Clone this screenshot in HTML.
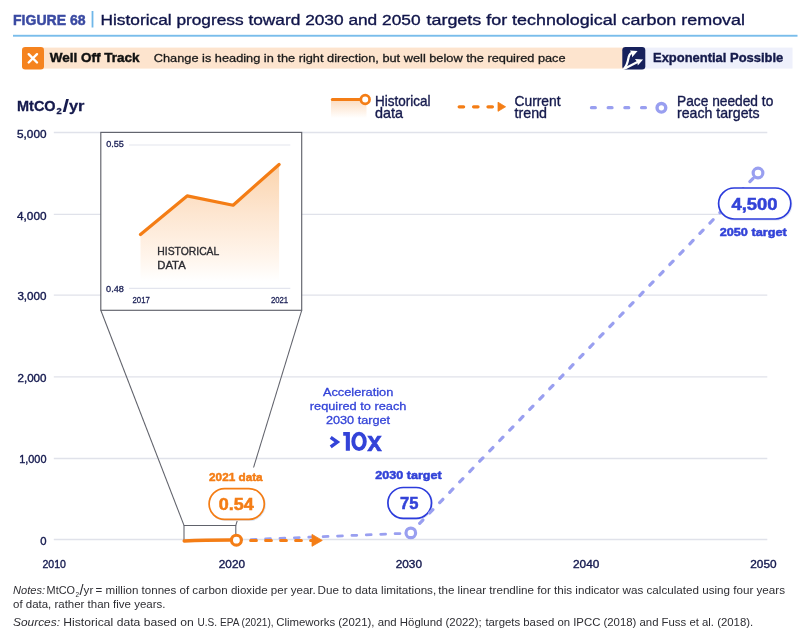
<!DOCTYPE html>
<html>
<head>
<meta charset="utf-8">
<title>Figure 68</title>
<style>
  html, body { margin: 0; padding: 0; background: #ffffff; }
  body { width: 800px; height: 639px; overflow: hidden; font-family: "Liberation Sans", sans-serif; }
  svg { display: block; will-change: transform; transform: translateZ(0); }
  text { font-family: "Liberation Sans", sans-serif; }
  .navy { fill: #151a4d; }
  .ax { fill: #161b50; font-size: 11px; stroke: #161b50; stroke-width: 0.38; }
  .leg { fill: #151a4d; font-size: 13.9px; stroke: #151a4d; stroke-width: 0.35; }
  .blue { fill: #3343d8; }
  .bs { stroke: #3343d8; stroke-width: 0.5; }
  .os { stroke: #f47d15; stroke-width: 0.5; }
  .org { fill: #f47d15; }
  .note { fill: #2e2e33; font-size: 11px; }
</style>
</head>
<body>
<svg width="800" height="639" viewBox="0 0 800 639">
  <defs>
    <linearGradient id="gArea" x1="0" y1="0" x2="0" y2="1">
      <stop offset="0" stop-color="#fbd4ad"/>
      <stop offset="0.4" stop-color="#fde5cf"/>
      <stop offset="0.8" stop-color="#fff5ec"/>
      <stop offset="1" stop-color="#ffffff"/>
    </linearGradient>
    <linearGradient id="gLeg" x1="0" y1="0" x2="0" y2="1">
      <stop offset="0" stop-color="#fcdcc0"/>
      <stop offset="1" stop-color="#ffffff"/>
    </linearGradient>
  </defs>

  <rect x="0" y="0" width="800" height="639" fill="#ffffff"/>

  <!-- Title -->
  <text x="13" y="24.6" font-size="15.1" font-weight="bold" fill="#3a4aa2" stroke="#3a4aa2" stroke-width="0.5" textLength="72.5" lengthAdjust="spacingAndGlyphs">FIGURE 68</text>
  <rect x="91.6" y="11" width="1.8" height="16.5" fill="#6fb7e9"/>
  <text x="100.5" y="24.6" font-size="15.2" fill="#10154a" stroke="#10154a" stroke-width="0.35" textLength="320" lengthAdjust="spacingAndGlyphs">Historical progress toward 2030 and 2050</text>
  <text x="426.5" y="24.6" font-size="15.2" fill="#10154a" stroke="#10154a" stroke-width="0.35" textLength="318.5" lengthAdjust="spacingAndGlyphs">targets for technological carbon removal</text>
  <rect x="13" y="34.8" width="784.5" height="1.9" fill="#79bdeb"/>

  <!-- Banner -->
  <rect x="30" y="47.6" width="594" height="21" fill="#fde4ce"/>
  <rect x="640" y="47.6" width="152.5" height="21" fill="#eef0fb"/>
  <rect x="22" y="47" width="22" height="22.4" rx="3.2" fill="#f5831f"/>
  <path d="M28.7 54.2 L37 62.5 M37 54.2 L28.7 62.5" stroke="#ffffff" stroke-width="2.4" stroke-linecap="round" fill="none"/>
  <text x="49.8" y="62.2" font-size="13.7" font-weight="bold" fill="#111111" stroke="#111111" stroke-width="0.45" textLength="89.8" lengthAdjust="spacingAndGlyphs">Well Off Track</text>
  <text x="153.8" y="62" font-size="11.7" fill="#1a1a1a" stroke="#1a1a1a" stroke-width="0.3" textLength="411.8" lengthAdjust="spacingAndGlyphs">Change is heading in the right direction, but well below the required pace</text>

  <rect x="622.3" y="47" width="23" height="22.5" rx="3.2" fill="#17215c"/>
  <clipPath id="icClip"><rect x="622.3" y="47" width="23" height="22.5" rx="3.2"/></clipPath>
  <g clip-path="url(#icClip)">
    <path d="M624 68.8 C626.6 66 627.7 62.2 628.3 58.8 C628.8 55.6 629.6 53.6 632 52.9" fill="none" stroke="#ffffff" stroke-width="2.2" stroke-linecap="round"/>
    <path d="M624.4 68.8 L637 62.2" fill="none" stroke="#ffffff" stroke-width="2.2" stroke-linecap="round"/>
    <path d="M629.9 50.6 L637.6 51 L632.1 57.2 L631.9 53.6 Z" fill="#ffffff"/>
    <path d="M634.9 59 L643.1 59.5 L637.8 65.6 L637.3 62 Z" fill="#ffffff"/>
  </g>
  <text x="653" y="62.4" font-size="13.6" font-weight="bold" fill="#141a4b" stroke="#141a4b" stroke-width="0.4" textLength="130.3" lengthAdjust="spacingAndGlyphs">Exponential Possible</text>

  <!-- Axis unit label -->
  <g font-weight="bold" class="navy" stroke="#151a4d" stroke-width="0.3">
    <text x="17" y="110.5" font-size="14.5" textLength="38.6" lengthAdjust="spacingAndGlyphs">MtCO</text>
    <text x="56.6" y="113.8" font-size="8.4" textLength="5.2" lengthAdjust="spacingAndGlyphs">2</text>
    <text x="62.4" y="111.6" font-size="18.5" textLength="6.6" lengthAdjust="spacingAndGlyphs" stroke-width="0">/</text>
    <text x="69" y="110.5" font-size="14.5" textLength="15.5" lengthAdjust="spacingAndGlyphs">yr</text>
  </g>

  <!-- Legend -->
  <rect x="331" y="100" width="35.5" height="18" fill="url(#gLeg)"/>
  <path d="M332.3 99.5 L361 99.5" stroke="#f47d15" stroke-width="3" stroke-linecap="round"/>
  <circle cx="365.2" cy="99.5" r="4.35" fill="#ffffff" stroke="#f47d15" stroke-width="2.7"/>
  <text x="375" y="105.8" class="leg" textLength="55.5" lengthAdjust="spacingAndGlyphs">Historical</text>
  <text x="375" y="117.6" class="leg" textLength="28" lengthAdjust="spacingAndGlyphs">data</text>

  <path d="M459.2 106.8 L494 106.8" stroke="#f47d15" stroke-width="3.3" stroke-linecap="round" stroke-dasharray="4.4 10" fill="none"/>
  <path d="M498 102.2 L505.6 106.8 L498 111.3 Z" fill="#f47d15" stroke="#f47d15" stroke-width="0.8" stroke-linejoin="round"/>
  <text x="514.5" y="105.8" class="leg" textLength="46" lengthAdjust="spacingAndGlyphs">Current</text>
  <text x="514.5" y="117.6" class="leg" textLength="32.5" lengthAdjust="spacingAndGlyphs">trend</text>

  <path d="M591.5 107.7 L650 107.7" stroke="#999ff0" stroke-width="3.3" stroke-linecap="round" stroke-dasharray="3.8 12.9" fill="none"/>
  <circle cx="661.4" cy="107.8" r="4.35" fill="#ffffff" stroke="#999ff0" stroke-width="3.4"/>
  <text x="677" y="105.8" class="leg" textLength="96.3" lengthAdjust="spacingAndGlyphs">Pace needed to</text>
  <text x="677" y="117.6" class="leg" textLength="82.5" lengthAdjust="spacingAndGlyphs">reach targets</text>

  <!-- Grid lines -->
  <g stroke="#e0e2ea" stroke-width="1.3">
    <line x1="53.8" y1="132.5" x2="767.3" y2="132.5"/>
    <line x1="53.8" y1="214.3" x2="767.3" y2="214.3"/>
    <line x1="53.8" y1="295.1" x2="767.3" y2="295.1"/>
    <line x1="53.8" y1="376.8" x2="767.3" y2="376.8"/>
    <line x1="53.8" y1="458.5" x2="767.3" y2="458.5"/>
    <line x1="53.8" y1="539.5" x2="767.3" y2="539.5"/>
  </g>

  <!-- Y labels -->
  <g class="ax">
    <text x="17" y="137.6" textLength="29.5" lengthAdjust="spacingAndGlyphs">5,000</text>
    <text x="17" y="219.6" textLength="29.5" lengthAdjust="spacingAndGlyphs">4,000</text>
    <text x="17.4" y="300.4" textLength="29.1" lengthAdjust="spacingAndGlyphs">3,000</text>
    <text x="17.5" y="382" textLength="29" lengthAdjust="spacingAndGlyphs">2,000</text>
    <text x="19.2" y="463" textLength="27.3" lengthAdjust="spacingAndGlyphs">1,000</text>
    <text x="40.3" y="545.1" textLength="6.3" lengthAdjust="spacingAndGlyphs">0</text>
  </g>

  <!-- X labels -->
  <g class="ax">
    <text x="42.5" y="567.6" textLength="23.5" lengthAdjust="spacingAndGlyphs">2010</text>
    <text x="218.8" y="567.6" textLength="26.2" lengthAdjust="spacingAndGlyphs">2020</text>
    <text x="395.7" y="567.6" textLength="26.3" lengthAdjust="spacingAndGlyphs">2030</text>
    <text x="573" y="567.6" textLength="26.3" lengthAdjust="spacingAndGlyphs">2040</text>
    <text x="750.3" y="567.6" textLength="26.3" lengthAdjust="spacingAndGlyphs">2050</text>
  </g>

  <!-- Funnel lines -->
  <g stroke="#60626b" stroke-width="1.05" fill="none">
    <line x1="100.8" y1="310.3" x2="184" y2="525.4"/>
    <line x1="301.7" y1="310.3" x2="235.8" y2="525.4"/>
    <path d="M184 540 L184 525.4 L235.8 525.4 L235.8 535"/>
  </g>

  <!-- Inset -->
  <rect x="100.8" y="132.4" width="200.9" height="177.9" fill="#ffffff" stroke="#60626b" stroke-width="1.15"/>
  <g stroke="#e3e5ee" stroke-width="1.2">
    <line x1="129.1" y1="145" x2="290.3" y2="145"/>
    <line x1="129.1" y1="288.3" x2="290.3" y2="288.3"/>
  </g>
  <path d="M140.5 234.5 L187.1 195.9 L233.1 205.2 L279.1 164.5 L279.1 281 L140.5 281 Z" fill="url(#gArea)"/>
  <path d="M140.5 234.5 L187.1 195.9 L233.1 205.2 L279.1 164.5" fill="none" stroke="#f47d15" stroke-width="3.2" stroke-linecap="round" stroke-linejoin="round"/>
  <g font-size="8.9" fill="#1b2056" stroke="#1b2056" stroke-width="0.3">
    <text x="106.2" y="146.9" textLength="17.7" lengthAdjust="spacingAndGlyphs">0.55</text>
    <text x="106.1" y="291.6" textLength="17.8" lengthAdjust="spacingAndGlyphs">0.48</text>
    <text x="132.5" y="302.5" textLength="17.3" lengthAdjust="spacingAndGlyphs">2017</text>
    <text x="270.9" y="302.5" textLength="17.3" lengthAdjust="spacingAndGlyphs">2021</text>
  </g>
  <text x="157.3" y="255" font-size="11.5" fill="#2b2b31" stroke="#2b2b31" stroke-width="0.35" textLength="62" lengthAdjust="spacingAndGlyphs">HISTORICAL</text>
  <text x="157.3" y="268.5" font-size="11.5" fill="#2b2b31" stroke="#2b2b31" stroke-width="0.35" textLength="28.4" lengthAdjust="spacingAndGlyphs">DATA</text>

  <!-- 2030 pill (under the dashed line) -->
  <rect x="388.7" y="488.4" width="43.6" height="30.8" rx="15.4" fill="none" stroke="#e6e9f4" stroke-width="1.6"/>
  <rect x="387.9" y="487.5" width="43.6" height="30.8" rx="15.4" fill="#ffffff" stroke="#2c3cdc" stroke-width="1.7"/>
  <text x="400" y="508.7" font-size="16" font-weight="bold" class="blue bs" textLength="18.4" lengthAdjust="spacingAndGlyphs">75</text>

  <!-- Pace needed (purple dashed) -->
  <g fill="none" stroke="#999ff0" stroke-width="3.2" stroke-linecap="round">
    <path d="M236.3 540.1 L410.7 533.1" stroke-width="2.75" stroke-dasharray="4.9 9.5" stroke-dashoffset="-0.5"/>
    <path d="M410.7 532.6 L758.1 173.2" stroke-dasharray="4.6 9.8" stroke-dashoffset="1.5"/>
  </g>

  <!-- Current trend (orange dashed) -->
  <path d="M250.6 540.6 L313 540.6" stroke="#f47d15" stroke-width="3" stroke-linecap="round" stroke-dasharray="5.8 9.2" fill="none"/>
  <path d="M312 534.4 L322.3 540.4 L312 546.3 Z" fill="#f47d15" stroke="#f47d15" stroke-width="0.8" stroke-linejoin="round"/>

  <!-- Historical (main chart) -->
  <path d="M184.2 541 C200 540.2 215 540 231 540" fill="none" stroke="#f47d15" stroke-width="3.4" stroke-linecap="round"/>
  <circle cx="236.4" cy="540.2" r="4.95" fill="#ffffff" stroke="#f47d15" stroke-width="3.1"/>

  <!-- 2030 / 2050 markers -->
  <circle cx="410.8" cy="532.9" r="4.8" fill="#ffffff" stroke="#999ff0" stroke-width="3.2"/>
  <circle cx="758" cy="173" r="4.85" fill="#ffffff" stroke="#999ff0" stroke-width="3.2"/>

  <!-- 2021 data label -->
  <rect x="206" y="467.5" width="60" height="23" fill="#ffffff"/>
  <text x="209.1" y="480.8" font-size="11.2" font-weight="bold" class="org os" textLength="53.5" lengthAdjust="spacingAndGlyphs">2021 data</text>
  <rect x="209.9" y="489.5" width="55.2" height="30.8" rx="15.4" fill="none" stroke="#dfe8f4" stroke-width="1.6"/>
  <rect x="209.1" y="488.6" width="55.2" height="30.8" rx="15.4" fill="#ffffff" stroke="#f47d15" stroke-width="1.7"/>
  <text x="218.8" y="509.9" font-size="16" font-weight="bold" class="org os" textLength="34.9" lengthAdjust="spacingAndGlyphs">0.54</text>

  <!-- 2030 target label -->
  <text x="375.3" y="478.8" font-size="11.2" font-weight="bold" class="blue bs" textLength="66.4" lengthAdjust="spacingAndGlyphs">2030 target</text>
  <!-- 2050 target label -->
  <rect x="719.4" y="188.9" width="72.2" height="31" rx="15.5" fill="none" stroke="#e6e9f4" stroke-width="1.6"/>
  <rect x="718.6" y="188" width="72.2" height="31" rx="15.5" fill="#ffffff" stroke="#2c3cdc" stroke-width="1.7"/>
  <text x="731.5" y="209.5" font-size="16.8" font-weight="bold" class="blue bs" textLength="46.1" lengthAdjust="spacingAndGlyphs">4,500</text>
  <text x="719.7" y="235.8" font-size="11.2" font-weight="bold" class="blue bs" textLength="67" lengthAdjust="spacingAndGlyphs">2050 target</text>

  <!-- Acceleration text -->
  <g class="blue" font-size="11.7" stroke="#3343d8" stroke-width="0.3">
    <text x="322.9" y="395.7" textLength="70.4" lengthAdjust="spacingAndGlyphs">Acceleration</text>
    <text x="309.8" y="410" textLength="96.6" lengthAdjust="spacingAndGlyphs">required to reach</text>
    <text x="325.9" y="424" textLength="64.2" lengthAdjust="spacingAndGlyphs">2030 target</text>
  </g>
  <g fill="#3343d8">
    <path d="M330.7 437.4 L337.3 442.1 L330.7 446.8" fill="none" stroke="#3343d8" stroke-width="3.4" stroke-linejoin="miter" stroke-miterlimit="6"/>
    <path d="M343.2 432 L349.9 432 L349.9 450.8 L345.8 450.8 L345.8 435.7 L343.2 435.7 Z"/>
    <ellipse cx="359.05" cy="441.4" rx="5.75" ry="7.75" fill="none" stroke="#3343d8" stroke-width="3.9"/>
    <text x="367.2" y="450.7" font-size="27.4" font-weight="bold" stroke="#3343d8" stroke-width="0.5" textLength="14.6" lengthAdjust="spacingAndGlyphs">x</text>
  </g>

  <!-- Notes -->
  <g class="note">
    <text x="13" y="594" font-style="italic" textLength="32" lengthAdjust="spacingAndGlyphs">Notes:</text>
    <text x="46.6" y="594" textLength="28.4" lengthAdjust="spacingAndGlyphs">MtCO</text>
    <text x="75.4" y="596.6" font-size="6.4">2</text>
    <text x="79.6" y="595.2" font-size="14" textLength="4" lengthAdjust="spacingAndGlyphs">/</text>
    <text x="83.6" y="594" textLength="9.7" lengthAdjust="spacingAndGlyphs">yr</text>
    <text x="95.6" y="594" textLength="220.2" lengthAdjust="spacingAndGlyphs">= million tonnes of carbon dioxide per year.</text>
    <text x="317.5" y="594" textLength="118.7" lengthAdjust="spacingAndGlyphs">Due to data limitations,</text>
    <text x="438.2" y="594" textLength="346.8" lengthAdjust="spacingAndGlyphs">the linear trendline for this indicator was calculated using four years</text>
    <text x="13" y="608.2" textLength="152.4" lengthAdjust="spacingAndGlyphs">of data, rather than five years.</text>
    <text x="13" y="626.4" font-style="italic" textLength="47" lengthAdjust="spacingAndGlyphs">Sources:</text>
    <text x="63.3" y="626.4" textLength="130.4" lengthAdjust="spacingAndGlyphs">Historical data based on</text>
    <text x="197.5" y="626.4" textLength="76.1" lengthAdjust="spacingAndGlyphs">U.S. EPA (2021),</text>
    <text x="276.2" y="626.4" textLength="205.5" lengthAdjust="spacingAndGlyphs">Climeworks (2021), and Höglund (2022);</text>
    <text x="485.4" y="626.4" textLength="267.8" lengthAdjust="spacingAndGlyphs">targets based on IPCC (2018) and Fuss et al. (2018).</text>
  </g>
</svg>
</body>
</html>
